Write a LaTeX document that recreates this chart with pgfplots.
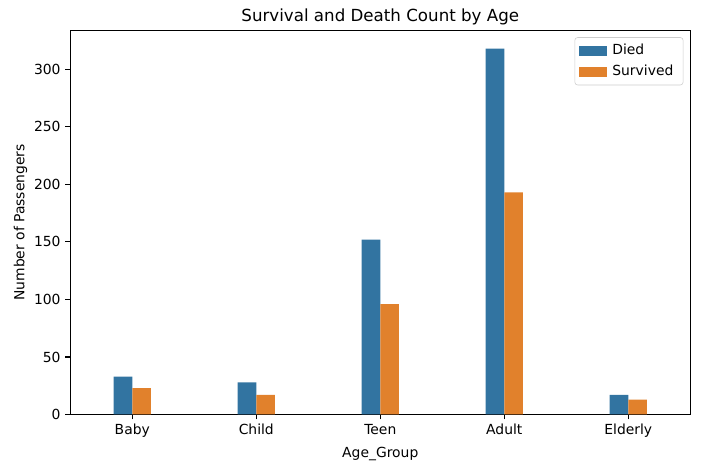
\documentclass[border=0pt]{standalone}
\usepackage{fontspec}
\setmainfont{DejaVu Sans}
\usepackage{pgfplots}
\pgfplotsset{compat=1.18}
\definecolor{sbblue}{HTML}{3274A1}
\definecolor{sborange}{HTML}{E1812C}
\begin{document}
\begin{tikzpicture}
\begin{axis}[name=ax, at={(0,0)}, anchor=south west,
  scale only axis, width=446.4pt, height=276.6pt,
  xmin=-0.5, xmax=4.5, ymin=0, ymax=334,
  xtick={0,1,2,3,4}, xticklabels={Baby,Child,Teen,Adult,Elderly},
  ytick={0,50,100,150,200,250,300},
  tick pos=left, tick align=outside, major tick length=3.5pt,
  tick style={black, line width=0.8pt},
  axis line style={line width=0.8pt},
  font=\fontsize{10}{12}\selectfont,
  /pgf/number format/assume math mode=true,
  ticklabel style={font=\fontsize{10}{12}\selectfont},
  xlabel={Age\_Group}, ylabel={Number of Passengers},
  label style={font=\fontsize{10}{12}\selectfont},
  ylabel style={yshift=-2pt},
  title={Survival and Death Count by Age},
  title style={font=\fontsize{12}{14}\selectfont, yshift=-6pt},
  ybar, bar width=0.15,
  legend cell align=left,
  legend style={at={(1,1)}, anchor=north east, xshift=-5pt, yshift=-5pt,
    draw=black!20, rounded corners=2pt, fill=white,
    font=\fontsize{10}{12}\selectfont, row sep=2pt, inner sep=3pt,
    nodes={inner xsep=4pt}},
  legend image code/.code={\fill[#1, sharp corners] (0pt,-3.5pt) rectangle (20pt,3.5pt);},
]
\addplot[fill=sbblue, draw=none, bar shift=-0.075] coordinates {(0,33) (1,28) (2,152) (3,318) (4,17)};
\addplot[fill=sborange, draw=none, bar shift=0.075] coordinates {(0,23) (1,17) (2,96) (3,193) (4,13)};
\legend{Died,Survived}
\end{axis}
\path (-50.6pt,-35.6pt) rectangle (468.5pt,298.4pt);
\end{tikzpicture}
\end{document}
